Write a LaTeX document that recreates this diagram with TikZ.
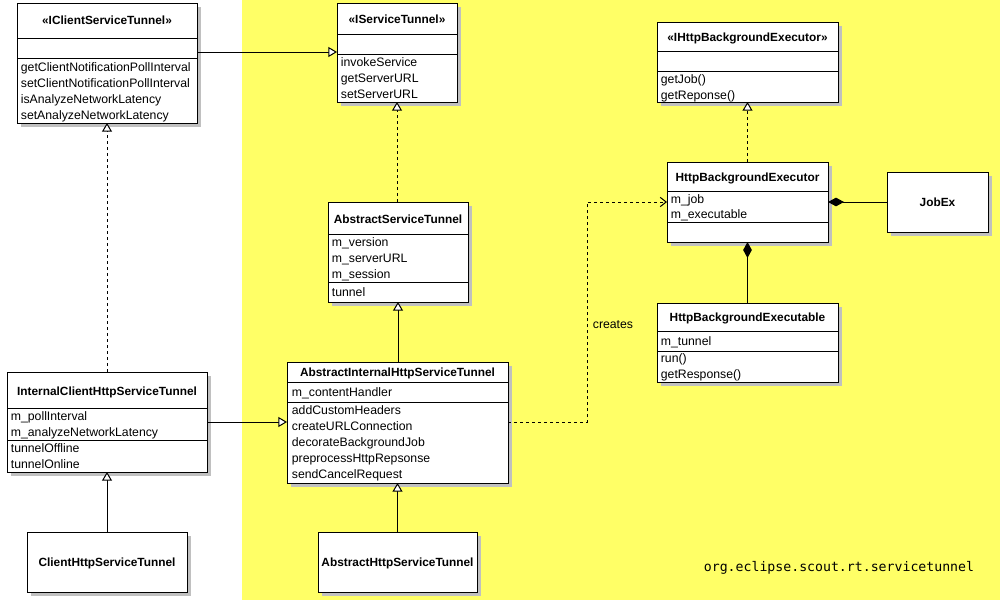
\documentclass[tikz,border=0pt]{standalone}
\usepackage{fontspec}
\setmainfont{Liberation Sans}
\newfontfamily\pkgfont{DejaVu Sans Mono}
\usetikzlibrary{arrows.meta,shadows,fit}
\definecolor{bgyellow}{RGB}{255,255,102}
\definecolor{shadowgray}{RGB}{192,192,192}
\begin{document}
\begin{tikzpicture}[x=0.75pt,y=-0.75pt,
  umlbox/.style={draw=black, line width=0.75pt, fill=white, inner sep=0pt, outer sep=0pt,
    drop shadow={shadow xshift=3pt, shadow yshift=-3pt, fill=shadowgray, opacity=1}},
  divider/.style={draw=black, line width=0.75pt},
  txt/.style={inner sep=0pt, anchor=west, xshift=1.2pt, font=\fontsize{9.2pt}{11pt}\selectfont, text height=7pt, text depth=1pt},
  ttl/.style={inner sep=0pt, font=\fontsize{8.9pt}{11pt}\selectfont\bfseries, text height=7pt, text depth=1pt},
  gen/.style={draw=black, line width=0.75pt, -{Triangle[length=6.5pt, width=7.5pt, fill=white]}},
  real/.style={gen, dash pattern=on 2.5pt off 2pt},
  dep/.style={draw=black, line width=0.75pt, dash pattern=on 2.5pt off 2pt, -{Straight Barb[length=4.5pt, width=7pt]}},
  comp/.style={draw=black, line width=0.75pt, {Diamond[length=12pt, width=6.5pt, fill=black]}-}
]
\useasboundingbox (0,0) rectangle (1000,600);
\fill[white] (0,0) rectangle (1000,600);
\fill[bgyellow] (242,0) rectangle (1000,600);

% ---- IClientServiceTunnel
\node[umlbox, fit={(17,3) (197,123)}] (ics) {};
\draw[divider] (ics.west |- 0,38) -- (ics.east |- 0,38);
\draw[divider] (ics.west |- 0,58) -- (ics.east |- 0,58);
\node[ttl] (icsT) at (107,20) {«IClientServiceTunnel»};
\node[txt] (ics1) at (19,67) {getClientNotificationPollInterval};
\node[txt] (ics2) at (19,83) {setClientNotificationPollInterval};
\node[txt] (ics3) at (19,99) {isAnalyzeNetworkLatency};
\node[txt] (ics4) at (19,115) {setAnalyzeNetworkLatency};

% ---- IServiceTunnel
\node[umlbox, fit={(337,3) (457,102)}] (ist) {};
\draw[divider] (ist.west |- 0,34) -- (ist.east |- 0,34);
\draw[divider] (ist.west |- 0,54) -- (ist.east |- 0,54);
\node[ttl] (istT) at (397,19) {«IServiceTunnel»};
\node[txt] (ist1) at (339,62) {invokeService};
\node[txt] (ist2) at (339,78) {getServerURL};
\node[txt] (ist3) at (339,94) {setServerURL};

% ---- IHttpBackgroundExecutor
\node[umlbox, fit={(657,22) (838,102)}] (ihbe) {};
\draw[divider] (ihbe.west |- 0,51) -- (ihbe.east |- 0,51);
\draw[divider] (ihbe.west |- 0,71) -- (ihbe.east |- 0,71);
\node[ttl] (ihbeT) at (747.5,37) {«IHttpBackgroundExecutor»};
\node[txt] (ihbe1) at (659,79) {getJob()};
\node[txt] (ihbe2) at (659,95) {getReponse()};

% ---- HttpBackgroundExecutor
\node[umlbox, fit={(667,162) (828,242)}] (hbe) {};
\draw[divider] (hbe.west |- 0,191) -- (hbe.east |- 0,191);
\draw[divider] (hbe.west |- 0,222) -- (hbe.east |- 0,222);
\node[ttl] (hbeT) at (747.5,177) {HttpBackgroundExecutor};
\node[txt] (hbe1) at (669,199) {m\_job};
\node[txt] (hbe2) at (669,214) {m\_executable};

% ---- JobEx
\node[umlbox, fit={(887,172) (988,232)}] (jobex) {};
\node[ttl] (jobexT) at (937.5,202) {JobEx};

% ---- HttpBackgroundExecutable
\node[umlbox, fit={(657,303) (838,382)}] (hbexe) {};
\draw[divider] (hbexe.west |- 0,331) -- (hbexe.east |- 0,331);
\draw[divider] (hbexe.west |- 0,351) -- (hbexe.east |- 0,351);
\node[ttl] (hbexeT) at (747.5,317) {HttpBackgroundExecutable};
\node[txt] (hbexe1) at (659,341) {m\_tunnel};
\node[txt] (hbexe2) at (659,358) {run()};
\node[txt] (hbexe3) at (659,374) {getResponse()};

% ---- AbstractServiceTunnel
\node[umlbox, fit={(328,202) (468,302)}] (ast) {};
\draw[divider] (ast.west |- 0,234) -- (ast.east |- 0,234);
\draw[divider] (ast.west |- 0,282) -- (ast.east |- 0,282);
\node[ttl] (astT) at (398,219) {AbstractServiceTunnel};
\node[txt] (ast1) at (330,242) {m\_version};
\node[txt] (ast2) at (330,258) {m\_serverURL};
\node[txt] (ast3) at (330,274) {m\_session};
\node[txt] (ast4) at (330,292) {tunnel};

% ---- AbstractInternalHttpServiceTunnel
\node[umlbox, fit={(287,362) (508,483)}] (aiht) {};
\draw[divider] (aiht.west |- 0,382) -- (aiht.east |- 0,382);
\draw[divider] (aiht.west |- 0,402) -- (aiht.east |- 0,402);
\node[ttl] (aihtT) at (397.5,372) {AbstractInternalHttpServiceTunnel};
\node[txt] (aiht1) at (290,392) {m\_contentHandler};
\node[txt] (aiht2) at (290,410) {addCustomHeaders};
\node[txt] (aiht3) at (290,426) {createURLConnection};
\node[txt] (aiht4) at (290,442) {decorateBackgroundJob};
\node[txt] (aiht5) at (290,458) {preprocessHttpRepsonse};
\node[txt] (aiht6) at (290,474) {sendCancelRequest};

% ---- InternalClientHttpServiceTunnel
\node[umlbox, fit={(7,372) (207,472)}] (icht) {};
\draw[divider] (icht.west |- 0,408) -- (icht.east |- 0,408);
\draw[divider] (icht.west |- 0,440) -- (icht.east |- 0,440);
\node[ttl] (ichtT) at (107,391) {InternalClientHttpServiceTunnel};
\node[txt] (icht1) at (9,416) {m\_pollInterval};
\node[txt] (icht2) at (9,432) {m\_analyzeNetworkLatency};
\node[txt] (icht3) at (9,448) {tunnelOffline};
\node[txt] (icht4) at (9,464) {tunnelOnline};

% ---- ClientHttpServiceTunnel
\node[umlbox, fit={(27,532) (187,592)}] (cht) {};
\node[ttl] (chtT) at (107,562) {ClientHttpServiceTunnel};

% ---- AbstractHttpServiceTunnel
\node[umlbox, fit={(318,532) (477,592)}] (aht) {};
\node[ttl] (ahtT) at (397.5,562) {AbstractHttpServiceTunnel};

% ---- package label
\node[inner sep=0pt, font=\pkgfont\fontsize{9.9pt}{11pt}\selectfont] (pkg) at (839,568) {org.eclipse.scout.rt.servicetunnel};

% ---- connectors
\draw[gen] (ics.east |- 0,52) -- (ist.west |- 0,52);
\draw[real] (ast.north -| ist.south) -- (ist.south);
\draw[gen] (aiht.north -| ast.south) -- (ast.south);
\draw[gen] (aht.north -| aiht.south) -- (aiht.south);
\draw[real] (icht.north) -- (ics.south);
\draw[gen] (cht.north) -- (icht.south);
\draw[gen] (icht.east |- 0,422) -- (aiht.west |- 0,422);
\draw[real] (hbe.north) -- (ihbe.south);
\draw[comp] (hbe.east |- 0,202) -- (jobex.west |- 0,202);
\draw[comp] (hbe.south) -- (hbexe.north);
\coordinate (c1) at (587,422);
\coordinate (c2) at (587,202);
\draw[dep] (aiht.east |- c1) -- (c1) -- (c2) -- (hbe.west |- c2);
\node[txt] (creates) at (591,324) {creates};
\end{tikzpicture}
\end{document}
